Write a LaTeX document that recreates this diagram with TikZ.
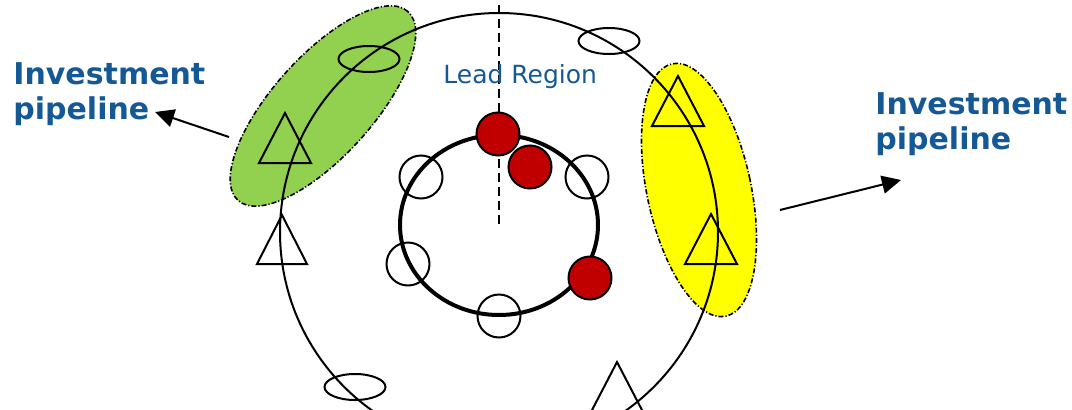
\documentclass[tikz,border=0pt]{standalone}
\usepackage{fontspec}
\setmainfont{DejaVu Sans}
\usepackage{xcolor}
\usetikzlibrary{shapes.geometric,arrows.meta}
\definecolor{pipeblue}{RGB}{21,88,150}
\definecolor{leafgreen}{RGB}{146,208,80}
\definecolor{pipeyellow}{RGB}{255,255,0}
\definecolor{leadred}{RGB}{192,0,0}

\begin{document}
\begin{tikzpicture}[x=1pt, y=-1pt, thick,
ring/.style = {draw, circle, line width=2pt, minimum size=43pt, inner sep=0pt},
hot/.style = {ring, fill=leadred},
orbit/.style = {draw, ellipse, line width=2pt, minimum width=61pt, minimum height=26pt, inner sep=0pt},
zone/.style = {draw, ellipse, line width=1.6pt, dash pattern=on 5pt off 2pt on 1.2pt off 2pt, inner sep=0pt},
pipe/.style = {font=\fontsize{30}{35}\selectfont\bfseries, text=pipeblue, align=left, anchor=north west, inner sep=0pt},
tri/.style = {line width=2pt},
link/.style = {line width=2pt, -{Triangle[length=19pt, width=18pt]}}]
\useasboundingbox (0,0) rectangle (1072,410);
\node[zone, fill=leafgreen, minimum width=254pt, minimum height=100pt, rotate=48] (green) at (323,106) {};
\node[zone, fill=pipeyellow, minimum width=104pt, minimum height=258pt, rotate=12] (yellow) at (699,190) {};
\node[draw, circle, line width=2pt, minimum size=438pt, inner sep=0pt] (outer) at (499,232) {};
\node[orbit] (e1) at (369,59) {};
\node[orbit] (e2) at (609,41) {};
\node[orbit] (e3) at (355,387) {};
\draw[tri] (285,113) -- ++(26,50) -- ++(-52,0) -- cycle;
\draw[tri] (282,215) -- ++(25,49) -- ++(-50,0) -- cycle;
\draw[tri] (678,76) -- ++(26,50) -- ++(-52,0) -- cycle;
\draw[tri] (711,214) -- ++(26,50) -- ++(-52,0) -- cycle;
\draw[tri] (617,362) -- ++(26,50) -- ++(-52,0) -- cycle;
\node[draw, ellipse, line width=4pt, minimum width=198pt, minimum height=180pt, inner sep=0pt] (core) at (499,225) {};
\coordinate (top) at (499,5);
\draw[line width=2pt, dash pattern=on 9pt off 5pt] (top) -- (core.center);
\node[ring] (o1) at (421,177) {};
\node[ring] (o2) at (587,177) {};
\node[ring] (o3) at (408,264) {};
\node[ring] (o4) at (499,316) {};
\node[hot] (r1) at (498,134) {};
\node[hot] (r2) at (530,167) {};
\node[hot] (r3) at (590,278) {};
\coordinate (gtail) at (229,137);
\coordinate (gtip) at (155,112);
\coordinate (ytail) at (780,210);
\coordinate (ytip) at (901,180);
\draw[link] (gtail) -- (gtip);
\draw[link] (ytail) -- (ytip);
\node[pipe] (pipeL) at (13,62) {Investment\\pipeline};
\node[pipe] (pipeR) at (875,92) {Investment\\pipeline};
\node[font=\fontsize{25}{30}\selectfont, text=pipeblue, anchor=base west, inner sep=0pt] (lead) at (443,83) {Lead Region};
\end{tikzpicture}
\end{document}
